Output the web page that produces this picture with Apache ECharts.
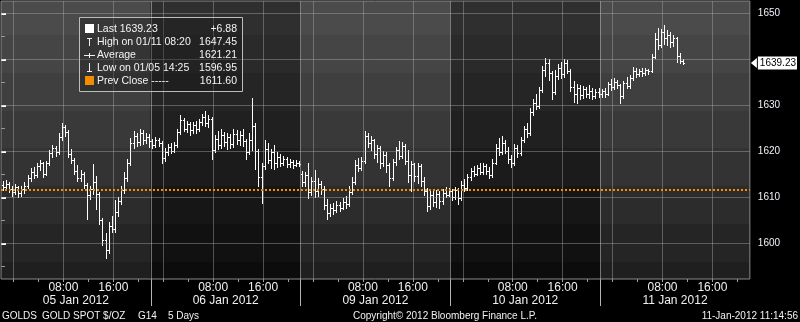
<!DOCTYPE html>
<html>
<head>
<meta charset="utf-8">
<script src="https://cdn.jsdelivr.net/npm/echarts@6.0.0/dist/echarts.min.js"></script>
<style>
html,body{margin:0;padding:0;background:#000;}
#chart{width:800px;height:322px;}
</style>
</head>
<body>
<div id="chart"></div>
<script>
// ---------------- DATA ----------------
const dayLabels = ['05 Jan 2012', '06 Jan 2012', '09 Jan 2012', '10 Jan 2012', '11 Jan 2012'];
const dayStartHour = 22;          // each session starts 22:00 of the previous day
const barHours = 0.5;             // 30-minute bars
const timeLabelHours = [8, 16];   // "08:00", "16:00"
const gridHours = [0, 8, 16];
const minorTickHours = [0, 4, 8, 12, 16, 20];
const yTicks = [1600, 1610, 1620, 1630, 1640, 1650];
const yMinorTicks = [1595, 1605, 1615, 1625, 1635, 1645];

const lastPrice = 1639.23;
const netChange = '+6.88';
const highPrice = 1647.45;
const highTime = '01/11 08:20';
const avgPrice = 1621.21;
const lowPrice = 1596.95;
const lowTime = '01/05 14:25';
const prevClose = 1611.60;

const footerLeft = ['GOLDS', 'GOLD SPOT $/OZ', 'G14', '5 Days'];
const footerCenter = 'Copyright\u00a9 2012 Bloomberg Finance L.P.';
const footerRight = '11-Jan-2012 11:14:56';

// [open, close, low, high] per 30-minute bar
const jan05 = [
[1612.8,1612.2,1611.6,1613.6],[1612.2,1613.0,1611.8,1613.8],[1613.0,1611.8,1611.2,1613.4],[1611.8,1611.2,1610.4,1612.4],
[1611.2,1612.3,1610.8,1612.9],[1612.3,1610.9,1610.2,1612.6],[1610.9,1611.8,1610.4,1612.5],[1611.8,1612.6,1611.0,1613.4],
[1612.6,1614.2,1612.0,1614.8],[1614.2,1615.6,1613.6,1616.4],[1615.6,1614.8,1614.2,1616.6],[1614.8,1616.8,1614.5,1617.6],
[1616.8,1617.4,1616.0,1618.2],[1617.4,1615.2,1614.5,1617.8],[1615.2,1617.5,1614.9,1618.0],[1617.5,1619.6,1617.0,1620.4],
[1619.6,1620.8,1618.8,1621.4],[1620.8,1619.8,1619.0,1621.2],[1619.8,1623.2,1619.5,1624.0],[1623.2,1625.4,1622.6,1626.2],
[1625.4,1624.2,1623.4,1625.8],[1624.2,1619.4,1618.8,1624.6],[1619.4,1618.2,1617.6,1620.6],[1618.2,1615.8,1615.2,1618.6],
[1615.8,1614.2,1613.5,1617.0],[1614.2,1615.2,1613.6,1616.0],[1615.2,1612.8,1612.0,1615.6],[1612.8,1610.6,1605.4,1613.2],
[1610.6,1611.8,1609.6,1612.6],[1611.8,1613.4,1610.8,1617.2],[1613.4,1610.8,1607.6,1614.6],[1610.8,1605.0,1604.2,1611.2],
[1605.0,1600.8,1599.6,1605.6],[1600.8,1598.6,1596.95,1602.2],[1598.6,1603.8,1598.0,1604.6],[1603.8,1603.2,1602.4,1606.0],
[1603.2,1606.8,1602.6,1609.4],[1606.8,1609.2,1606.0,1610.2],[1609.2,1611.6,1608.6,1612.6],[1611.6,1614.2,1611.0,1615.6],
[1614.2,1617.4,1613.6,1618.4],[1617.4,1621.8,1617.0,1623.0],[1621.8,1623.4,1620.8,1624.4],[1623.4,1622.0,1621.2,1624.0],
[1622.0,1624.0,1621.4,1624.8],[1624.0,1622.6,1621.6,1624.6],[1622.6,1623.2,1621.8,1624.0],[1623.2,1622.2,1621.0,1623.8]
];
const jan06 = [
[1622.2,1621.4,1620.8,1622.8],[1621.4,1622.6,1621.0,1623.2],[1622.6,1621.8,1621.2,1623.0],[1621.8,1618.6,1617.4,1622.2],
[1618.6,1619.8,1618.0,1620.8],[1619.8,1621.0,1619.2,1621.6],[1621.0,1620.2,1619.6,1621.8],[1620.2,1621.4,1619.8,1622.0],
[1621.4,1624.2,1621.0,1625.0],[1624.2,1626.8,1623.8,1628.0],[1626.8,1625.0,1624.4,1627.2],[1625.0,1626.0,1624.2,1626.6],
[1626.0,1624.6,1623.6,1626.4],[1624.6,1625.8,1624.0,1626.4],[1625.8,1624.8,1624.0,1626.6],[1624.8,1626.4,1624.4,1627.0],
[1626.4,1627.6,1625.8,1628.2],[1627.6,1626.2,1625.6,1628.7],[1626.2,1627.0,1625.4,1628.0],[1627.0,1620.4,1618.4,1627.4],
[1620.4,1622.8,1619.8,1623.6],[1622.8,1621.4,1620.6,1624.4],[1621.4,1623.6,1620.8,1624.8],[1623.6,1622.0,1621.2,1624.2],
[1622.0,1623.2,1620.6,1624.0],[1623.2,1621.6,1620.8,1623.8],[1621.6,1623.8,1621.0,1625.0],[1623.8,1622.4,1621.6,1624.6],
[1622.4,1623.6,1621.4,1624.4],[1623.6,1622.2,1621.2,1625.0],[1622.2,1619.8,1618.4,1622.8],[1619.8,1622.6,1619.4,1624.0],
[1622.6,1625.6,1620.4,1631.6],[1625.6,1620.0,1616.2,1626.2],[1620.0,1614.4,1612.6,1620.6],[1614.4,1616.8,1608.7,1617.6],
[1616.8,1620.6,1616.2,1622.6],[1620.6,1618.2,1617.4,1621.8],[1618.2,1619.8,1616.4,1620.6],[1619.8,1617.4,1616.2,1621.4],
[1617.4,1618.8,1616.6,1619.8],[1618.8,1617.6,1616.8,1619.4],[1617.6,1618.4,1617.0,1619.0],[1618.4,1617.2,1616.6,1618.8],
[1617.2,1617.8,1616.6,1618.4],[1617.8,1617.0,1616.4,1618.2],[1617.0,1617.6,1616.8,1618.2],[1617.6,1617.2,1616.8,1618.0]
];
const jan09 = [
[1615.0,1613.4,1612.4,1615.8],[1613.4,1614.8,1612.6,1615.6],[1614.8,1611.2,1609.8,1617.6],[1611.2,1613.6,1610.6,1614.4],
[1613.6,1611.4,1610.0,1616.0],[1611.4,1613.0,1610.4,1614.2],[1613.0,1611.8,1610.8,1613.6],[1611.8,1608.4,1607.6,1612.4],
[1608.4,1606.6,1605.4,1609.6],[1606.6,1607.8,1606.0,1608.6],[1607.8,1607.2,1606.4,1608.8],[1607.2,1608.4,1606.8,1609.2],
[1608.4,1607.8,1607.0,1609.0],[1607.8,1609.0,1607.4,1609.8],[1609.0,1608.6,1607.8,1610.4],[1608.6,1611.2,1608.2,1612.6],
[1611.2,1613.4,1610.8,1614.4],[1613.4,1617.0,1613.0,1618.2],[1617.0,1616.4,1615.8,1618.6],[1616.4,1618.0,1616.0,1618.8],
[1618.0,1623.4,1617.6,1624.5],[1623.4,1621.8,1621.0,1624.0],[1621.8,1622.6,1620.4,1623.4],[1622.6,1619.4,1618.6,1622.8],
[1619.4,1620.8,1617.8,1621.4],[1620.8,1617.6,1616.4,1621.2],[1617.6,1619.2,1616.8,1620.0],[1619.2,1617.0,1615.6,1619.8],
[1617.0,1614.2,1612.6,1617.6],[1614.2,1617.8,1613.8,1618.4],[1617.8,1620.4,1617.0,1621.0],[1620.4,1619.0,1618.4,1622.3],
[1619.0,1621.2,1618.6,1622.0],[1621.2,1618.0,1617.2,1621.6],[1618.0,1614.8,1613.4,1620.4],[1614.8,1617.2,1611.4,1618.0],
[1617.2,1614.6,1613.6,1617.6],[1614.6,1616.8,1613.2,1617.4],[1616.8,1613.6,1612.6,1617.2],[1613.6,1611.4,1610.6,1614.4],
[1611.4,1608.2,1607.0,1612.0],[1608.2,1610.6,1607.6,1611.4],[1610.6,1609.0,1608.2,1611.8],[1609.0,1610.8,1608.0,1611.6],
[1610.8,1609.2,1607.8,1611.4],[1609.2,1611.0,1608.6,1611.8],[1611.0,1610.6,1610.2,1612.2],[1610.6,1611.4,1610.4,1612.0]
];
const jan10 = [
[1611.4,1610.2,1609.4,1611.8],[1610.2,1611.6,1609.6,1612.2],[1611.6,1609.8,1608.6,1612.0],[1609.8,1612.8,1609.4,1613.6],
[1612.8,1612.0,1611.4,1614.0],[1612.0,1614.4,1611.6,1615.0],[1614.4,1615.8,1613.8,1616.4],[1615.8,1615.0,1614.6,1616.8],
[1615.0,1616.4,1614.8,1617.0],[1616.4,1615.6,1615.0,1617.4],[1615.6,1616.8,1615.2,1617.6],[1616.8,1615.8,1615.0,1617.2],
[1615.8,1614.8,1614.2,1616.6],[1614.8,1617.6,1614.4,1618.4],[1617.6,1620.8,1617.2,1621.6],[1620.8,1619.8,1619.2,1623.0],
[1619.8,1621.8,1619.4,1623.4],[1621.8,1620.2,1619.6,1622.4],[1620.2,1618.4,1617.6,1621.0],[1618.4,1617.4,1616.6,1619.2],
[1617.4,1620.8,1617.0,1621.6],[1620.8,1619.6,1618.8,1621.4],[1619.6,1622.4,1619.2,1623.2],[1622.4,1624.8,1622.0,1625.6],
[1624.8,1624.0,1623.2,1626.3],[1624.0,1628.6,1623.6,1629.4],[1628.6,1630.6,1628.0,1631.4],[1630.6,1629.8,1629.2,1632.4],
[1629.8,1633.4,1629.4,1634.0],[1633.4,1637.8,1633.0,1638.6],[1637.8,1639.2,1636.4,1640.4],[1639.2,1637.0,1635.6,1640.2],
[1637.0,1633.0,1631.4,1637.6],[1633.0,1636.4,1632.6,1637.8],[1636.4,1638.2,1635.8,1639.0],[1638.2,1636.8,1636.0,1639.4],
[1636.8,1639.2,1636.2,1640.2],[1639.2,1637.6,1637.0,1639.8],[1637.6,1634.0,1633.2,1638.0],[1634.0,1632.6,1630.8,1635.4],
[1632.6,1633.8,1630.6,1634.6],[1633.8,1632.2,1631.4,1634.4],[1632.2,1633.6,1631.6,1634.2],[1633.6,1632.4,1631.8,1634.0],
[1632.4,1633.2,1631.6,1634.4],[1633.2,1632.0,1631.4,1633.8],[1632.0,1633.0,1631.6,1633.6],[1633.0,1632.6,1631.8,1633.8]
];
const jan11 = [
[1632.6,1633.2,1631.8,1633.6],[1633.2,1632.4,1631.8,1633.8],[1632.4,1634.6,1632.2,1635.2],[1634.6,1634.0,1633.4,1635.8],
[1634.0,1635.2,1633.6,1636.0],[1635.2,1634.4,1633.8,1635.6],[1634.4,1632.0,1630.6,1634.6],[1632.0,1634.8,1631.6,1635.4],
[1634.8,1634.2,1633.8,1636.2],[1634.2,1636.0,1633.8,1636.6],[1636.0,1637.6,1635.6,1638.4],[1637.6,1636.8,1636.2,1638.2],
[1636.8,1637.6,1636.4,1638.0],[1637.6,1637.0,1636.4,1638.2],[1637.0,1637.8,1636.6,1638.2],[1637.8,1637.4,1636.8,1638.0],
[1637.4,1640.6,1637.2,1641.2],[1640.6,1644.4,1640.4,1645.8],[1644.4,1643.2,1642.2,1646.8],[1643.2,1646.0,1642.8,1646.6],
[1646.0,1644.6,1643.4,1647.45],[1644.6,1645.4,1643.2,1646.4],[1645.4,1643.8,1642.8,1646.0],[1643.8,1644.6,1643.0,1645.4],
[1644.6,1640.8,1639.4,1645.0],[1640.8,1639.6,1639.2,1641.4],[1639.6,1639.23,1639.0,1640.2]
];

// ---------------- BUILD ----------------
const sessions = [jan05, jan06, jan09, jan10, jan11];
const nDays = sessions.length;
const ohlc = [];
sessions.forEach((bars, d) => bars.forEach((b, j) => {
  ohlc.push([d * 24 + (j + 0.5) * barHours, b[0], b[1], b[2], b[3]]);
}));
const toAxis = (d, h) => d * 24 + ((h - dayStartHour + 24) % 24);
const dayIdx = [...Array(nDays).keys()];
const labelX = [], minorX = [], boundaryX = [], centerX = [], gridX = [];
dayIdx.forEach(d => {
  timeLabelHours.forEach(h => labelX.push(toAxis(d, h)));
  minorTickHours.forEach(h => minorX.push(toAxis(d, h)));
  gridHours.forEach(h => gridX.push(toAxis(d, h)));
  if (d > 0) boundaryX.push(d * 24);
  centerX.push(d * 24 + 12);
});
const pad2 = n => (n < 10 ? '0' : '') + n;

const FONT = '"Liberation Sans", Arial, sans-serif';
const band = [0, 0.122, 0.258, 0.394, 0.530, 0.666, 0.802, 0.939, 1];
function stepped(colors) {
  const stops = [];
  colors.forEach((c, i) => { stops.push({offset: band[i], color: c}); stops.push({offset: band[i + 1], color: c}); });
  return {type: 'linear', x: 0, y: 0, x2: 0, y2: 1, colorStops: stops};
}
const lightBg = stepped(['#4b4b4b','#454545','#3f3f3f','#393939','#333333','#2c2c2c','#252525','#1f1f1f']);
const darkBg  = stepped(['#2f2f2f','#2a2a2a','#252525','#202020','#1b1b1b','#161616','#111111','#0c0c0c']);

const xMin = 0, xMax = nDays * 24;
const yMin = 1592.28, yMax = 1652.72;

const chart = echarts.init(document.getElementById('chart'), null, {renderer: 'canvas'});

// info box (legend)
const boxRows = [
  {label: 'Last ' + lastPrice.toFixed(2), value: netChange},
  {label: 'High on ' + highTime, value: highPrice.toFixed(2)},
  {label: 'Average', value: avgPrice.toFixed(2)},
  {label: 'Low on ' + lowTime, value: lowPrice.toFixed(2)},
  {label: 'Prev Close -----', value: prevClose.toFixed(2)}
];
const BX = 79, BY = 17;
const rowY = [12, 25.5, 38, 51, 64];
const iconStyle = {stroke: '#f0f0f0', lineWidth: 1};
const ln = (x1, y1, x2, y2) => ({type: 'line', z: 100, shape: {x1: BX + x1, y1: BY + y1, x2: BX + x2, y2: BY + y2}, style: iconStyle});
const graphics = [
  {type: 'rect', z: 99, shape: {x: BX + 0.5, y: BY + 0.5, width: 163, height: 74}, style: {fill: 'rgba(20,20,20,0.35)', stroke: '#bdbdbd', lineWidth: 1}},
  {type: 'rect', z: 100, shape: {x: BX + 6, y: BY + 7, width: 9, height: 9}, style: {fill: '#ffffff'}},
  ln(8, 21.5, 13, 21.5), ln(10.5, 21, 10.5, 29),
  ln(5, 38.5, 16, 38.5), ln(10.5, 36, 10.5, 41),
  ln(10.5, 46, 10.5, 54), ln(8, 54.5, 13, 54.5),
  {type: 'rect', z: 100, shape: {x: BX + 6, y: BY + 59, width: 9, height: 9}, style: {fill: '#f28c00'}}
];
boxRows.forEach((r, i) => {
  graphics.push({type: 'text', z: 100, x: BX + 18, y: BY + rowY[i], style: {text: r.label, fill: '#f4f4f4', font: '10.5px ' + FONT, verticalAlign: 'middle', align: 'left'}});
  graphics.push({type: 'text', z: 100, x: BX + 158, y: BY + rowY[i], style: {text: r.value, fill: '#f4f4f4', font: '10.5px ' + FONT, verticalAlign: 'middle', align: 'right'}});
});
const footerXs = [2, 42, 138, 168];
footerLeft.forEach((t, i) => graphics.push({type: 'text', x: footerXs[i], y: 316, z: 100, style: {text: t, fill: '#f2f2f2', font: '10px ' + FONT, verticalAlign: 'middle'}}));
graphics.push({type: 'text', x: 353, y: 316, z: 100, style: {text: footerCenter, fill: '#f2f2f2', font: '10px ' + FONT, verticalAlign: 'middle'}});
graphics.push({type: 'text', x: 798, y: 316, z: 100, style: {text: footerRight, fill: '#f2f2f2', font: '10px ' + FONT, verticalAlign: 'middle', align: 'right'}});

// background of one session: stepped gradient
function renderSession(params, api) {
  const d = api.value(0);
  const tl = api.coord([d * 24, yMax]);
  const br = api.coord([(d + 1) * 24, yMin]);
  return {
    type: 'rect',
    shape: {x: tl[0], y: tl[1], width: br[0] - tl[0], height: br[1] - tl[1]},
    style: {fill: d % 2 ? darkBg : lightBg}
  };
}
const gridStyle = {color: 'rgba(175,175,175,0.42)', width: 1, type: 'solid', opacity: 1};
const dayLineStyle = {color: 'rgba(190,190,190,0.55)', width: 1, type: 'solid', opacity: 1};
const marks = yTicks.map(v => ({yAxis: v, lineStyle: gridStyle}))
  .concat(gridX.map(x => ({xAxis: x, lineStyle: gridStyle})))
  .concat(boundaryX.map(x => ({xAxis: x, lineStyle: dayLineStyle})))
  .concat([{yAxis: prevClose, lineStyle: {color: '#ff8c00', width: 2, type: [2, 2], opacity: 1}}]);

const option = {
  backgroundColor: '#000',
  animation: false,
  grid: {left: 1, right: 46, top: 1, bottom: 43, show: true, backgroundColor: 'transparent', borderColor: '#8a8a8a', borderWidth: 1, z: 3},
  xAxis: [
    { // 08:00 / 16:00 labels
      type: 'value', min: xMin, max: xMax, position: 'bottom',
      axisLine: {show: false},
      axisTick: {show: false},
      splitLine: {show: false},
      axisLabel: {
        customValues: labelX, margin: 3, color: '#f0f0f0', fontSize: 12, fontFamily: FONT,
        formatter: v => pad2((Math.round(v) % 24 + dayStartHour) % 24) + ':00'
      }
    },
    { // 4-hour minor ticks
      type: 'value', min: xMin, max: xMax, position: 'bottom',
      axisLine: {show: false},
      axisTick: {show: true, customValues: minorX, length: 3, lineStyle: {color: '#a0a0a0'}},
      splitLine: {show: false},
      axisLabel: {show: false}
    },
    { // day separators + date labels
      type: 'value', min: xMin, max: xMax, position: 'bottom',
      axisLine: {show: false},
      axisTick: {show: true, customValues: boundaryX, length: 27, lineStyle: {color: '#b4b4b4', width: 1}},
      splitLine: {show: false},
      axisLabel: {
        customValues: centerX, margin: 16, color: '#f0f0f0', fontSize: 12, fontFamily: FONT,
        formatter: v => dayLabels[Math.floor(v / 24)]
      }
    }
  ],
  yAxis: [
    {
      type: 'value', min: yMin, max: yMax, position: 'right',
      axisLine: {show: false},
      axisTick: {show: true, customValues: yTicks, length: 5, lineStyle: {color: '#ffffff', width: 2}},
      splitLine: {show: false},
      axisLabel: {
        customValues: yTicks.filter(v => Math.abs(v - lastPrice) > 2).concat([lastPrice]),
        margin: 8, color: '#eef2f8', fontSize: 10, fontFamily: FONT,
        formatter: v => Math.abs(v - lastPrice) < 1e-6 ? '{last|' + v.toFixed(2) + '}' : String(v),
        rich: {last: {backgroundColor: '#ffffff', color: '#000000', fontSize: 10, fontFamily: FONT, padding: [2, 1, 1, 2]}}
      }
    },
    {
      type: 'value', min: yMin, max: yMax, position: 'right',
      axisLine: {show: false},
      axisTick: {show: true, customValues: yMinorTicks, length: 4, lineStyle: {color: '#9a9a9a', width: 1}},
      splitLine: {show: false},
      axisLabel: {show: false}
    }
  ],
  graphic: graphics,
  series: [
  {
    type: 'custom', name: 'sessions', z: -2, silent: true,
    xAxisIndex: 0, yAxisIndex: 0,
    data: dayIdx.map(d => [d]),
    encode: {x: -1, y: -1},
    renderItem: renderSession
  },
  {
    type: 'custom', name: 'GOLDS', z: 2,
    xAxisIndex: 0, yAxisIndex: 0,
    data: ohlc,
    encode: {x: 0, y: [1, 2, 3, 4]},
    silent: true,
    renderItem: function (params, api) {
      const x = api.value(0);
      const pL = api.coord([x, api.value(3)]);
      const pH = api.coord([x, api.value(4)]);
      const pO = api.coord([x, api.value(1)]);
      const pC = api.coord([x, api.value(2)]);
      const half = api.size([barHours, 0])[0] * 0.5;
      const cx = Math.round(pL[0]) + 0.5;
      const st = {stroke: '#ffffff', lineWidth: 1};
      return {
        type: 'group',
        children: [
          {type: 'line', shape: {x1: cx, y1: Math.round(pH[1]), x2: cx, y2: Math.round(pL[1]) + 1}, style: st},
          {type: 'line', shape: {x1: cx - half, y1: Math.round(pO[1]) + 0.5, x2: cx, y2: Math.round(pO[1]) + 0.5}, style: st},
          {type: 'line', shape: {x1: cx, y1: Math.round(pC[1]) + 0.5, x2: cx + half, y2: Math.round(pC[1]) + 0.5}, style: st}
        ]
      };
    },
    markLine: {
      silent: true, symbol: 'none', animation: false,
      label: {show: false},
      data: marks
    },
    markPoint: {
      silent: true, animation: false,
      data: [{
        coord: [xMax, lastPrice],
        symbol: 'path://M0,5L7,0L7,10Z', symbolSize: [6, 10], symbolOffset: [4, 0],
        itemStyle: {color: '#ffffff'}, label: {show: false}
      }]
    }
  }]
};
chart.setOption(option);
</script>
</body>
</html>
